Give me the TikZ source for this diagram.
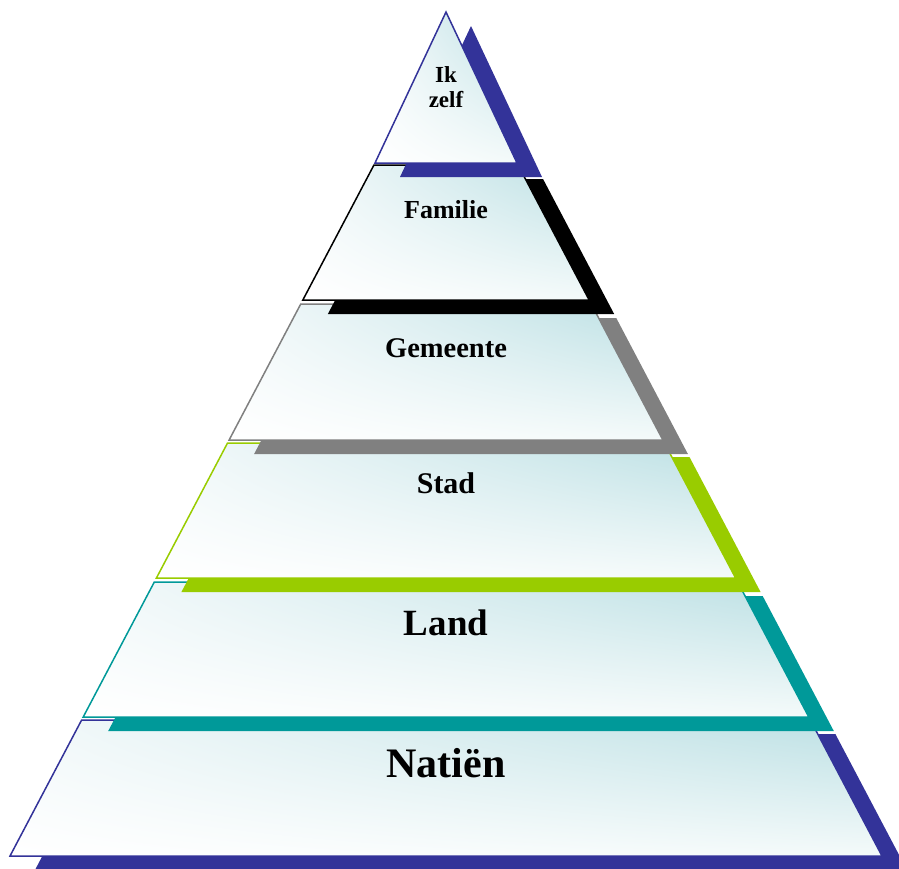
\documentclass[tikz,border=0pt]{standalone}
\usepackage{fontspec}
\setmainfont{Liberation Serif}
\usetikzlibrary{shadings}
\definecolor{pblue}{RGB}{51,51,153}
\definecolor{pteal}{RGB}{0,153,153}
\definecolor{pgreen}{RGB}{153,204,0}
\definecolor{pgrey}{RGB}{128,128,128}
\definecolor{pblack}{RGB}{0,0,0}
\definecolor{glow}{RGB}{186,223,227}
\definecolor{glowlow}{RGB}{244,250,250}
\definecolor{glowleft}{RGB}{243,249,250}
\tikzset{
  levelfill/.style={line width=1.5pt, line join=miter, shade,
    upper left=glowleft, upper right=glow, lower left=white, lower right=glowlow},
  shadowfill/.style={fill=#1, shift={(25,14)}},
  lbl/.style={anchor=base, inner sep=0pt, font=\bfseries\fontsize{#1}{#1}\selectfont}
}
\newcommand\pyrlevel[3]{%
  \pgfmathsetmacro\xlt{10+0.5267*(856-#2)}%
  \pgfmathsetmacro\xlb{10+0.5267*(856-#3)}%
  \pgfmathsetmacro\xrt{892-\xlt}%
  \pgfmathsetmacro\xrb{892-\xlb}%
  \fill[shadowfill=#1] (\xlt,#2) -- (\xrt,#2) -- (\xrb,#3) -- (\xlb,#3) -- cycle;
  \path[levelfill, draw=#1] (\xlt,#2) -- (\xrt,#2) -- (\xrb,#3) -- (\xlb,#3) -- cycle;
}
\begin{document}
\begin{tikzpicture}[x=1pt,y=-1pt]
\useasboundingbox (0,0) rectangle (899,868);
\begin{scope}
\clip (0,0) rectangle (899,868);
\pyrlevel{pblue}{720}{856}
\pyrlevel{pteal}{582}{717}
\pyrlevel{pgreen}{443}{578}
\pyrlevel{pgrey}{304}{440}
\pyrlevel{pblack}{165}{300}
\fill[shadowfill=pblue] (446,12) -- (517,163) -- (375,163) -- cycle;
\path[levelfill, draw=pblue] (446,12) -- (517,163) -- (375,163) -- cycle;
\end{scope}
\node[lbl=42] (naties) at (446,777) {Natiën};
\node[lbl=37] (land) at (446,635) {Land};
\node[lbl=30] (stad) at (446,493) {Stad};
\node[lbl=28.5] (gemeente) at (446,357) {Gemeente};
\node[lbl=26] (familie) at (446,218) {Familie};
\node[anchor=center, inner sep=0pt, align=center,
  font=\bfseries\fontsize{23}{25}\selectfont] (ikzelf) at (446,87.5) {Ik\\zelf};
\end{tikzpicture}
\end{document}
